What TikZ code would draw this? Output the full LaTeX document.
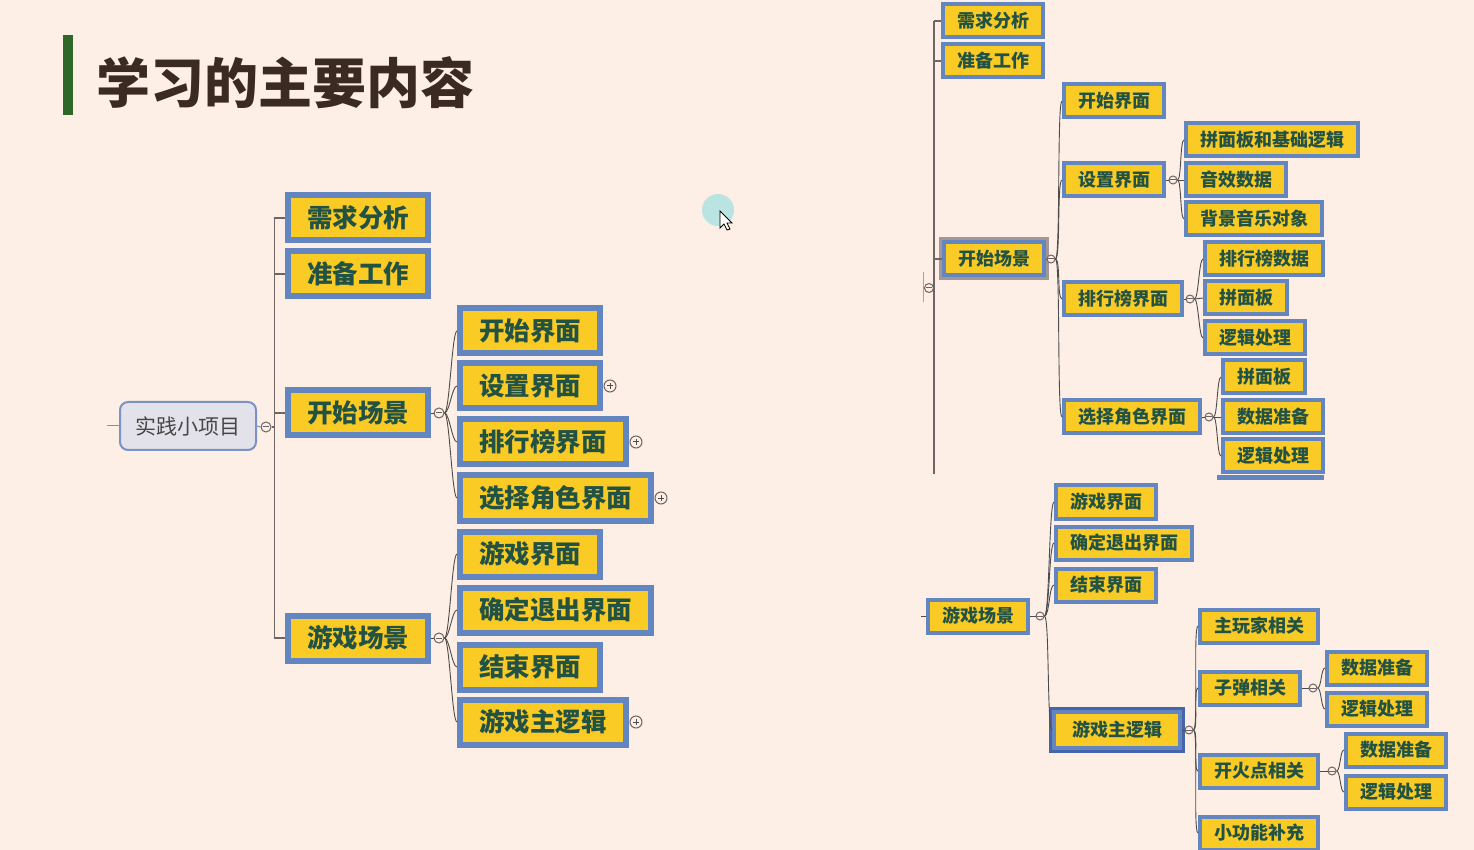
\documentclass[tikz,border=0pt]{standalone}
\usepackage{fontspec}
\setmainfont{Noto Sans CJK SC}
\usepackage{xcolor}
\usepackage{tikz}
\definecolor{pagebg}{RGB}{253,239,229}
\definecolor{barGreen}{RGB}{46,104,40}
\definecolor{titleBrown}{RGB}{58,42,34}
\definecolor{topicblue}{RGB}{100,134,192}
\definecolor{topicyellow}{RGB}{249,203,36}
\definecolor{topicgreen}{RGB}{34,82,68}
\definecolor{trunkgray}{RGB}{112,100,100}
\definecolor{foldgray}{RGB}{110,100,100}
\definecolor{rootfill}{RGB}{227,226,234}
\definecolor{rootedge}{RGB}{122,146,196}
\definecolor{pickgray}{RGB}{165,150,150}
\definecolor{pickblue}{RGB}{70,100,170}
\definecolor{pointerglow}{RGB}{186,228,226}
\tikzset{
  bigtopic/.style={draw=topicblue,fill=topicyellow,line width=3pt,text=topicgreen,font=\bfseries\fontsize{12.75}{13}\selectfont,inner xsep=9.5pt,inner ysep=0pt,minimum height=22.5pt,anchor=west},
  smalltopic/.style={draw=topicblue,fill=topicyellow,line width=2pt,text=topicgreen,font=\bfseries\fontsize{9}{10}\selectfont,inner xsep=7pt,inner ysep=0pt,minimum height=16.5pt,anchor=west},
  picked/.style={preaction={draw=#1,line width=5pt}},
  rootbox/.style={draw=rootedge,fill=rootfill,line width=1pt,rounded corners=4pt,text={black!72},font=\fontsize{10.5}{11}\selectfont,minimum width=68pt,minimum height=24pt},
  fold/.style={circle,draw=foldgray,fill=pagebg,line width=0.5pt,inner sep=0pt,minimum size=#1},
  minus/.style={path picture={\draw[foldgray,line width=0.5pt] ([xshift=-1.4pt]path picture bounding box.center) -- ([xshift=1.4pt]path picture bounding box.center);}},
  plus/.style={path picture={\draw[black!70,line width=0.5pt] ([xshift=-1.5pt]path picture bounding box.center) -- ([xshift=1.5pt]path picture bounding box.center) ([yshift=-1.5pt]path picture bounding box.center) -- ([yshift=1.5pt]path picture bounding box.center);}},
  trunk/.style={draw=trunkgray,line width=0.75pt},
  twig/.style={draw=black!70,line width=0.45pt}
}

\begin{document}
\begin{tikzpicture}[x=0.5pt,y=-0.5pt]
  \path[use as bounding box,fill=pagebg] (0,0) rectangle (1474,850);
  \clip (0,0) rectangle (1474,850);

  % title
  \fill[barGreen] (63,35) rectangle (73,115);
  \node[anchor=west,inner sep=0pt,text=titleBrown,font=\bfseries\fontsize{27}{28}\selectfont] (title) at (96,83) {学习的主要内容};

  % pointer
  \fill[pointerglow] (718,210) circle (16);
  \draw[black,fill=white,line width=0.4pt] (720,211) -- (720,228) -- (724,224) -- (727,230) -- (730,229) -- (727,223) -- (732,223) -- cycle;

  % left map
  \node[rootbox] (root) at (188,426) {实践小项目};
  \draw[draw=rootedge,line width=0.5pt] (root.west) -- ++(-12,0);
  \node[fold=5pt,minus] (froot) at (266,427) {};
  \draw[draw=rootedge,line width=0.5pt] (root.east) -- (froot.west);
  \node[bigtopic] (l1) at (285,218) {需求分析};
  \node[bigtopic] (l2) at (285,274) {准备工作};
  \node[bigtopic] (l3) at (285,413) {开始场景};
  \node[bigtopic] (l4) at (285,638) {游戏场景};
  \foreach \k in {1,2,3,4}
    \draw[trunk] (froot.east) -- ++(3,0) |- (l\k.west);
  \node[fold=5pt,minus] (f3) at (439,413) {};
  \node[fold=5pt,minus] (f4) at (439,638) {};
  \draw[twig] (l3.east) -- (f3.west);
  \draw[twig] (l4.east) -- (f4.west);

  \node[bigtopic] (m1) at (457,331) {开始界面};
  \node[bigtopic] (m2) at (457,386) {设置界面};
  \node[bigtopic] (m3) at (457,442) {排行榜界面};
  \node[bigtopic] (m4) at (457,498) {选择角色界面};
  \node[bigtopic] (g1) at (457,554) {游戏界面};
  \node[bigtopic] (g2) at (457,610) {确定退出界面};
  \node[bigtopic] (g3) at (457,667) {结束界面};
  \node[bigtopic] (g4) at (457,722) {游戏主逻辑};
  \foreach \k in {1,2,3,4}{
    \draw[twig] (f3.east) .. controls +(5,0) and +(-5,0) .. (m\k.west);
    \draw[twig] (f4.east) .. controls +(5,0) and +(-5,0) .. (g\k.west);
  }
  \node[fold=6pt,plus] (p2) at (610,386) {};
  \node[fold=6pt,plus] (p3) at (636,442) {};
  \node[fold=6pt,plus] (p4) at (661,498) {};
  \node[fold=6pt,plus] (p5) at (636,722) {};

  % right map, upper part
  \draw[draw=foldgray!60,line width=0.5pt] (923,272) -- (923,302);
  \node[fold=4.5pt,minus] (rf) at (929,288) {};
  \coordinate (rtail) at (934,474);
  \node[smalltopic] (r1) at (941,21) {需求分析};
  \node[smalltopic] (r2) at (941,61) {准备工作};
  \node[smalltopic,picked=pickgray] (r3) at (942,259) {开始场景};
  \draw[trunk] (934,21) -- (rtail);
  \foreach \k in {1,2,3}
    \draw[trunk] (rf.east) -- ++(0.5,0) |- (r\k.west);
  \node[fold=4pt,minus] (rf3) at (1051,259) {};
  \draw[twig] (r3.east) -- (rf3.west);

  \node[smalltopic] (s1) at (1062,101) {开始界面};
  \node[smalltopic] (s2) at (1062,180) {设置界面};
  \node[smalltopic] (s3) at (1062,299) {排行榜界面};
  \node[smalltopic] (s4) at (1062,417) {选择角色界面};
  \foreach \k in {1,2,3,4}
    \draw[twig] (rf3.east) .. controls +(5,0) and +(-5,0) .. (s\k.west);
  \node[fold=4pt,minus] (sf2) at (1173,180) {};
  \node[fold=4pt,minus] (sf3) at (1190,299) {};
  \node[fold=4pt,minus] (sf4) at (1209,417) {};
  \draw[twig] (s2.east) -- (sf2.west);
  \draw[twig] (s3.east) -- (sf3.west);
  \draw[twig] (s4.east) -- (sf4.west);

  \node[smalltopic] (t1) at (1184,140) {拼面板和基础逻辑};
  \node[smalltopic] (t2) at (1184,180) {音效数据};
  \node[smalltopic] (t3) at (1184,219) {背景音乐对象};
  \node[smalltopic] (u1) at (1203,259) {排行榜数据};
  \node[smalltopic] (u2) at (1203,298) {拼面板};
  \node[smalltopic] (u3) at (1203,338) {逻辑处理};
  \node[smalltopic] (v1) at (1221,377) {拼面板};
  \node[smalltopic] (v2) at (1221,417) {数据准备};
  \node[smalltopic] (v3) at (1221,456) {逻辑处理};
  \foreach \k in {1,2,3}{
    \draw[twig] (sf2.east) .. controls +(4,0) and +(-4,0) .. (t\k.west);
    \draw[twig] (sf3.east) .. controls +(4,0) and +(-4,0) .. (u\k.west);
    \draw[twig] (sf4.east) .. controls +(4,0) and +(-4,0) .. (v\k.west);
  }
  \draw[topicblue,line width=2.5pt] (1217,478) -- (1324,478);

  % right map, lower part
  \node[smalltopic] (w0) at (926,616) {游戏场景};
  \draw[twig] (w0.west) -- ++(-5,0);
  \node[fold=4pt,minus] (wf) at (1040,616) {};
  \draw[twig] (w0.east) -- (wf.west);
  \node[smalltopic] (w1) at (1054,502) {游戏界面};
  \node[smalltopic] (w2) at (1054,543) {确定退出界面};
  \node[smalltopic] (w3) at (1054,585) {结束界面};
  \node[smalltopic,picked=pickblue,inner xsep=9pt,minimum height=18pt] (w4) at (1052,730) {游戏主逻辑};
  \foreach \k in {1,2,3,4}
    \draw[twig] (wf.east) .. controls +(5,0) and +(-5,0) .. (w\k.west);
  \node[fold=4pt,minus] (wf4) at (1189,730) {};
  \draw[twig] (w4.east) -- (wf4.west);

  \node[smalltopic] (x1) at (1198,626) {主玩家相关};
  \node[smalltopic] (x2) at (1198,688) {子弹相关};
  \node[smalltopic] (x3) at (1198,771) {开火点相关};
  \node[smalltopic] (x4) at (1198,833) {小功能补充};
  \foreach \k in {1,2,3,4}
    \draw[twig] (wf4.east) .. controls +(5,0) and +(-5,0) .. (x\k.west);
  \node[fold=4pt,minus] (xf2) at (1313,688) {};
  \node[fold=4pt,minus] (xf3) at (1332,771) {};
  \draw[twig] (x2.east) -- (xf2.west);
  \draw[twig] (x3.east) -- (xf3.west);

  \node[smalltopic] (y1) at (1325,668) {数据准备};
  \node[smalltopic] (y2) at (1325,709) {逻辑处理};
  \node[smalltopic] (z1) at (1344,750) {数据准备};
  \node[smalltopic] (z2) at (1344,792) {逻辑处理};
  \foreach \k in {1,2}{
    \draw[twig] (xf2.east) .. controls +(4,0) and +(-4,0) .. (y\k.west);
    \draw[twig] (xf3.east) .. controls +(4,0) and +(-4,0) .. (z\k.west);
  }
\end{tikzpicture}
\end{document}
